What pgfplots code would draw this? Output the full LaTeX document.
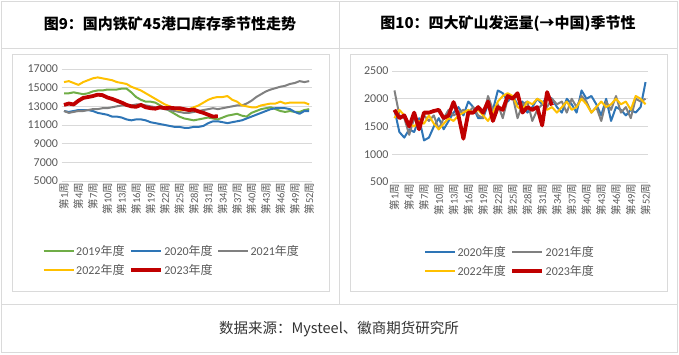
\documentclass[border=0pt]{standalone}
\usepackage{pgfplots}
\pgfplotsset{compat=1.18}
\usepackage{pgfplotstable}
\usepackage{fontspec}
\setmainfont{Carlito}
\newfontfamily\cjk{Noto Sans CJK SC}
\definecolor{c19}{HTML}{70AD47}
\definecolor{c20}{HTML}{2E75B6}
\definecolor{c21}{HTML}{808080}
\definecolor{c22}{HTML}{FFC000}
\definecolor{c23}{HTML}{C00000}
\definecolor{gridc}{HTML}{D9D9D9}
\definecolor{framec}{HTML}{DADADA}
\definecolor{tickc}{HTML}{595959}

\pgfplotstableread{
w a b c d e
1 14400 12500 12500 15600 13150
2 14400 12400 12300 15700 13300
3 14500 12500 12400 15500 13200
4 14400 12600 12500 15300 13600
5 14300 12600 12500 15600 13900
6 14400 12600 12600 15800 14000
7 14600 12500 12700 16000 14100
8 14700 12300 12700 16100 14250
9 14700 12200 12800 16000 14200
10 14800 12100 12800 15900 13950
11 14800 11900 12900 15800 13800
12 14800 11900 13000 15600 13600
13 14900 11800 13100 15500 13400
14 14900 11600 13100 15400 13150
15 14500 11500 13100 15100 13000
16 14000 11600 13200 14900 12950
17 13700 11600 13200 14700 13150
18 13500 11500 13100 14400 12900
19 13500 11300 13000 14100 12800
20 13400 11200 12900 13800 12750
21 13100 11100 12800 13500 12900
22 12800 11000 12700 13200 12800
23 12500 10900 12600 13000 12850
24 12200 10800 12500 12700 12800
25 11900 10800 12400 12600 12800
26 11700 10700 12300 12600 12700
27 11600 10700 12300 12700 12600
28 11500 10800 12400 12900 12650
29 11600 10800 12500 13100 12450
30 11700 10900 12600 13400 12300
31 11800 11200 12700 13700 12100
32 11700 11400 12800 13900 11900
33 11600 11400 12700 14000 11950
34 11800 11300 12800 14000 nan
35 12000 11200 12900 14100 nan
36 12100 11300 13000 13700 nan
37 12200 11400 13100 13500 nan
38 12000 11500 13100 13100 nan
39 11900 11700 13300 13000 nan
40 12300 11900 13600 12900 nan
41 12500 12100 14000 12900 nan
42 12700 12300 14300 13100 nan
43 12800 12500 14600 13200 nan
44 12900 12700 14800 13300 nan
45 12700 12800 14950 13300 nan
46 12500 12800 15100 13500 nan
47 12400 12800 15200 13300 nan
48 12500 12700 15400 13400 nan
49 12400 12400 15500 13400 nan
50 12400 12200 15700 13400 nan
51 12600 12500 15600 13400 nan
52 12700 12500 15700 13200 nan
}\leftdata

\pgfplotstableread{
w b c d e
1 1800 2150 1650 1800
2 1400 1700 1800 1650
3 1300 1650 1700 1700
4 1450 1350 1550 1500
5 1400 1650 1500 1750
6 1650 1500 1600 1450
7 1250 1700 1550 1750
8 1300 1600 1700 1750
9 1500 1700 1550 1780
10 1650 1450 1450 1800
11 1450 1650 1550 1650
12 1600 1800 1650 1700
13 1750 1700 1600 1940
14 1850 1750 1700 1700
15 1700 1800 1750 1280
16 1950 1750 1800 1750
17 1850 1850 1750 1750
18 1650 1700 1800 1850
19 1650 1650 1700 1750
20 1900 2050 1600 1950
21 1800 1800 1750 1600
22 2150 1900 1950 1850
23 2100 1650 2050 1800
24 1950 2000 2100 2050
25 2050 2050 2050 2000
26 1900 1650 1850 2100
27 1950 1900 1800 1750
28 1750 1950 1950 1850
29 1850 1600 1900 1800
30 2000 1800 2000 1850
31 1900 1900 1950 1520
32 2050 1850 1800 2120
33 2000 2000 1850 1880
34 1850 1900 1750 nan
35 1750 1950 1850 nan
36 2000 1750 1950 nan
37 1900 2000 1800 nan
38 1750 1850 1850 nan
39 2150 2050 2000 nan
40 2000 1950 1900 nan
41 2050 1750 1750 nan
42 1900 1850 1850 nan
43 1700 1600 1950 nan
44 2000 1950 1850 nan
45 1600 1800 1900 nan
46 1850 2050 2000 nan
47 1800 1750 1900 nan
48 1700 1850 1950 nan
49 1800 1650 1800 nan
50 1750 2000 2050 nan
51 1850 1950 2000 nan
52 2300 2000 1900 nan
}\rightdata

\pgfplotsset{
  seas/.style={
    scale only axis,
    xmin=0.5, xmax=52.5,
    xtick={1,4,...,52},
    xticklabel={{\cjk 第}\pgfmathprintnumber{\tick}{\cjk 周}},
    x tick label style={rotate=90, anchor=east, font=\fontsize{10.5}{11}\selectfont, text=tickc, inner sep=1.5pt},
    y tick label style={font=\fontsize{12}{13}\selectfont, text=tickc},
    scaled y ticks=false,
    /pgf/number format/assume math mode=true,
    /pgf/number format/1000 sep={},
    ymajorgrids,
    grid style={gridc, line width=0.8pt},
    axis line style={draw=none},
    major tick length=0pt,
    unbounded coords=jump,
    legend cell align=left,
    legend image code/.code={\draw[#1, line cap=butt] (0pt,0pt) -- (30pt,0pt);},
    legend style={draw=none, fill=none, font=\fontsize{12}{13}\selectfont, text=tickc,
      inner sep=0pt, row sep=4pt,
      nodes={inner sep=1.5pt},
      /tikz/every even column/.append style={column sep=3pt}},
  },
  thin/.style={line width=2pt, line join=round},
  thick/.style={line width=3.8pt, line join=round},
}

\begin{document}
\begin{tikzpicture}[x=1pt,y=1pt]
\useasboundingbox (0,0) rectangle (679,354);
% frames
\draw[framec, line width=0.9pt] (1,2) rectangle (677,353);
\draw[framec, line width=0.9pt] (1,306) -- (677,306);
\draw[framec, line width=0.9pt] (1,50) -- (677,50);
\draw[framec, line width=0.9pt] (339,50) -- (339,353);
\draw[framec, line width=0.9pt] (12,63) rectangle (329,300);
\draw[framec, line width=0.9pt] (350,63) rectangle (667,300);
% titles
\node at (170,330) {\cjk\bfseries\fontsize{15}{16}\selectfont 图9：国内铁矿45港口库存季节性走势};
\node at (508,330) {\cjk\bfseries\fontsize{15}{16}\selectfont 图10：四大矿山发运量(→中国)季节性};
\node[text=black!80] at (339,25) {\cjk\fontsize{14.5}{16}\selectfont 数据来源：Mysteel、徽商期货研究所};

\begin{axis}[seas,
  at={(61.6pt,173pt)}, anchor=south west,
  width=250pt, height=112pt,
  ymin=5000, ymax=17000, ytick={5000,7000,...,17000},
  legend columns=3,
  legend style={at={(0.44,-0.56)}, anchor=north},
]
\addplot[c19, thin] table[x=w, y=a] {\leftdata};
\addlegendentry{2019{\cjk 年度}}
\addplot[c20, thin] table[x=w, y=b] {\leftdata};
\addlegendentry{2020{\cjk 年度}}
\addplot[c21, thin] table[x=w, y=c] {\leftdata};
\addlegendentry{2021{\cjk 年度}}
\addplot[c22, thin] table[x=w, y=d] {\leftdata};
\addlegendentry{2022{\cjk 年度}}
\addplot[c23, thick] table[x=w, y=e] {\leftdata};
\addlegendentry{2023{\cjk 年度}}
\end{axis}

\begin{axis}[seas,
  at={(392pt,172pt)}, anchor=south west,
  width=256pt, height=111pt,
  ymin=500, ymax=2500, ytick={500,1000,...,2500},
  legend columns=2,
  legend style={at={(0.46,-0.565)}, anchor=north},
]
\addplot[c20, thin] table[x=w, y=b] {\rightdata};
\addlegendentry{2020{\cjk 年度}}
\addplot[c21, thin] table[x=w, y=c] {\rightdata};
\addlegendentry{2021{\cjk 年度}}
\addplot[c22, thin] table[x=w, y=d] {\rightdata};
\addlegendentry{2022{\cjk 年度}}
\addplot[c23, thick] table[x=w, y=e] {\rightdata};
\addlegendentry{2023{\cjk 年度}}
\end{axis}
\end{tikzpicture}
\end{document}
